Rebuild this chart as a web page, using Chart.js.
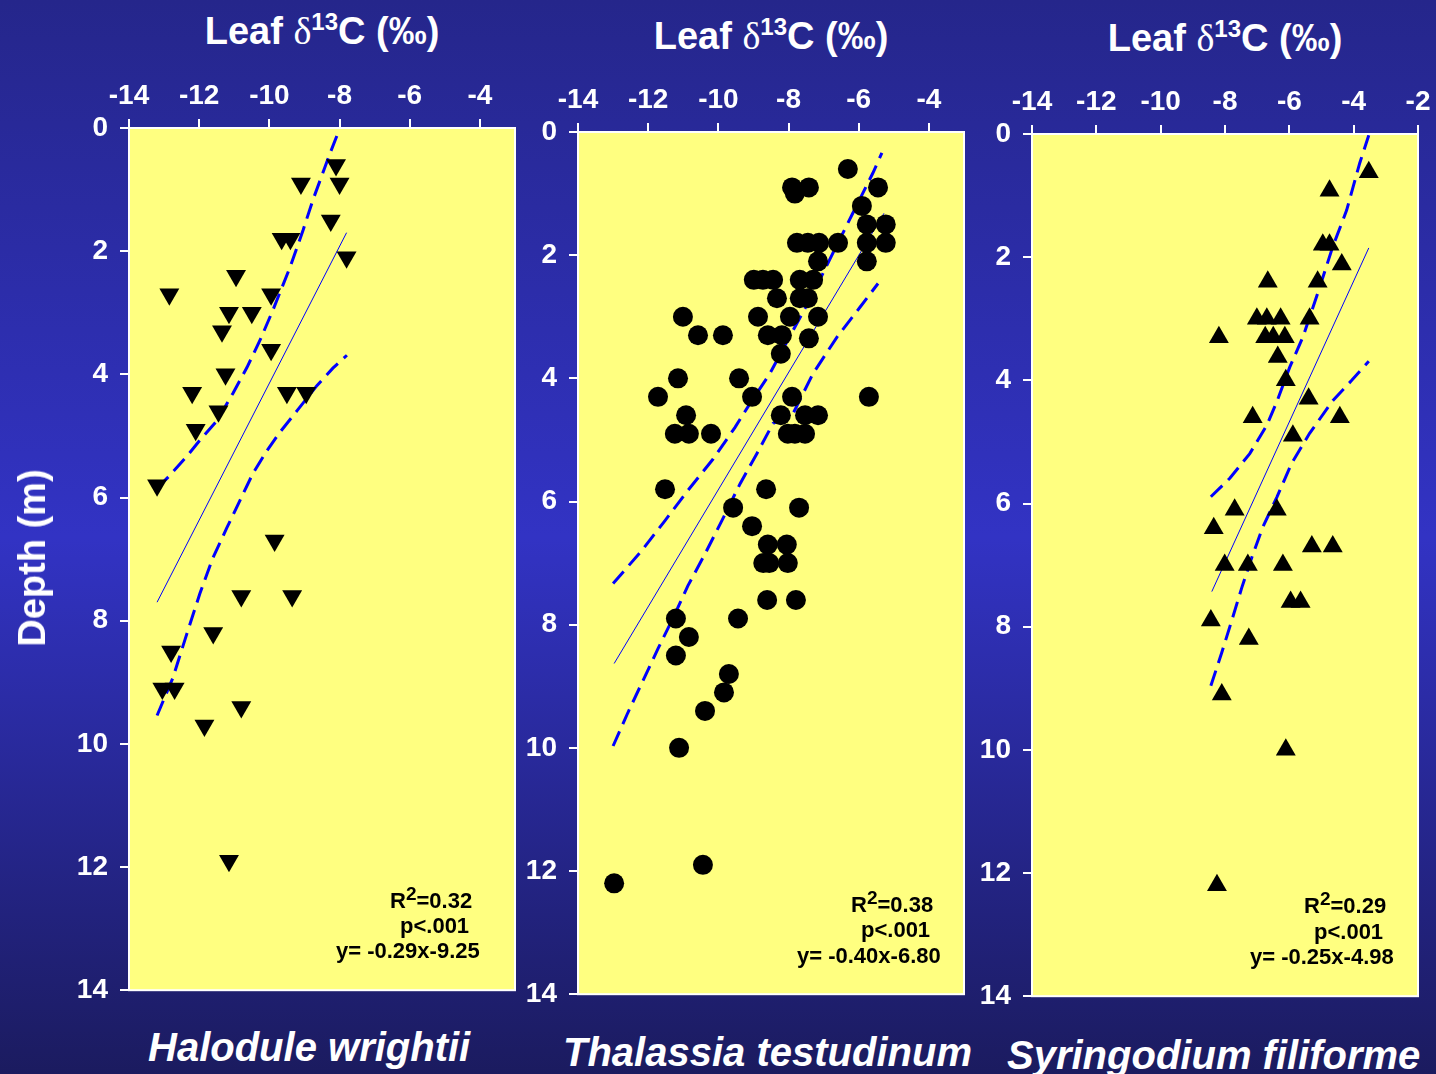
<!DOCTYPE html>
<html lang="en">
<head>
<meta charset="UTF-8">
<title>Leaf d13C vs depth</title>
<script src="https://cdn.jsdelivr.net/npm/chart.js"></script>
<style>
  body{margin:0;width:1436px;height:1074px;overflow:hidden;position:relative;
    background:linear-gradient(to bottom,#25268b 0%,#3233c4 50%,#1b1b5f 100%);
    font-family:"Liberation Sans",Arial,sans-serif;color:#fff;}
  canvas{position:absolute;}
  .ttl{position:absolute;font-weight:bold;font-size:38px;line-height:38px;white-space:nowrap;transform:translateX(-50%);}
  .ttl .d{font-family:"Liberation Serif",serif;font-weight:normal;}
  .ttl sup{font-size:24px;line-height:0;}
  .sp{position:absolute;font-weight:bold;font-style:italic;font-size:40px;line-height:40px;white-space:nowrap;}
  .st{position:absolute;font-weight:bold;font-size:22px;line-height:22px;color:#000;white-space:nowrap;}
  .st sup{font-size:19px;line-height:0;}
  .ylab{position:absolute;font-weight:bold;font-size:38px;line-height:38px;white-space:nowrap;
    transform:translate(-50%,-50%) rotate(-90deg);left:32px;top:558px;}
</style>
</head>
<body>

<canvas id="c1" width="496" height="961" style="left:49px;top:58px"></canvas>
<canvas id="c2" width="496" height="961" style="left:498px;top:62px"></canvas>
<canvas id="c3" width="496" height="961" style="left:952px;top:64px"></canvas>

<div class="ttl" style="left:322px;top:12px">Leaf <span class="d">δ</span><sup>13</sup>C (‰)</div>
<div class="ttl" style="left:771px;top:17px">Leaf <span class="d">δ</span><sup>13</sup>C (‰)</div>
<div class="ttl" style="left:1225px;top:19px">Leaf <span class="d">δ</span><sup>13</sup>C (‰)</div>

<div class="ylab">Depth (m)</div>

<div class="st" style="left:390px;top:890px">R<sup>2</sup>=0.32</div>
<div class="st" style="left:400px;top:915px">p&lt;.001</div>
<div class="st" style="left:336px;top:940px">y= -0.29x-9.25</div>

<div class="st" style="left:851px;top:894px">R<sup>2</sup>=0.38</div>
<div class="st" style="left:861px;top:919px">p&lt;.001</div>
<div class="st" style="left:797px;top:945px">y= -0.40x-6.80</div>

<div class="st" style="left:1304px;top:895px">R<sup>2</sup>=0.29</div>
<div class="st" style="left:1314px;top:921px">p&lt;.001</div>
<div class="st" style="left:1250px;top:946px">y= -0.25x-4.98</div>

<div class="sp" style="left:148px;top:1027px">Halodule wrightii</div>
<div class="sp" style="left:563px;top:1032px">Thalassia testudinum</div>
<div class="sp" style="left:1007px;top:1035px">Syringodium filiforme</div>

<script>
// axis ticks
const d13cTicks = [-14, -12, -10, -8, -6, -4];
const d13cTicksSyr = [-14, -12, -10, -8, -6, -4, -2];
const depthTicks = [0, 2, 4, 6, 8, 10, 12, 14];

// Halodule wrightii : leaf d13C (permil) and depth (m)
const halodD13C = [-8.1, -8.0, -9.1, -8.25, -9.65, -9.4, -7.8, -10.95, -12.85, -9.95,
  -11.15, -10.5, -11.35, -9.95, -11.25, -12.2, -9.5, -8.95, -11.45, -12.1,
  -13.2, -9.85, -10.8, -9.35, -11.6, -12.8, -13.05, -12.7, -10.8, -11.85, -11.15];
const halodDepth = [0.6, 0.9, 0.9, 1.5, 1.8, 1.8, 2.1, 2.4, 2.7, 2.7,
  3.0, 3.0, 3.3, 3.6, 4.0, 4.3, 4.3, 4.3, 4.6, 4.9,
  5.8, 6.7, 7.6, 7.6, 8.2, 8.5, 9.1, 9.1, 9.4, 9.7, 11.9];
const halodFitX = [-13.2, -7.8];
const halodFitY = [7.7, 1.7];
const halodUpX = [-13.2, -12.92, -12.38, -11.98, -11.49, -11.04, -10.64, -10.27, -9.9, -9.41, -9.04, -8.76, -8.27, -7.99];
const halodUpY = [5.85, 5.69, 5.35, 5.07, 4.75, 4.31, 3.89, 3.45, 2.96, 2.26, 1.66, 1.17, 0.41, 0.0];
const halodLoX = [-13.2, -12.75, -12.35, -11.98, -11.61, -11.21, -10.84, -10.47, -10.07, -9.7, -9.21, -8.64, -8.19, -7.79];
const halodLoY = [9.54, 8.93, 8.21, 7.56, 6.98, 6.49, 6.05, 5.61, 5.24, 4.94, 4.59, 4.18, 3.9, 3.69];

// Thalassia testudinum
const thalD13C = [-6.31, -7.9, -7.82, -7.42, -5.45, -5.91, -5.77, -5.23, -7.76, -7.45,
  -7.13, -6.59, -5.77, -5.23, -7.16, -5.77, -8.99, -8.73, -8.44, -7.68,
  -7.3, -8.33, -7.68, -7.45, -11.01, -8.87, -7.96, -7.16, -10.58, -9.87,
  -8.59, -8.19, -7.42, -8.22, -11.15, -9.41, -11.72, -9.04, -7.9, -5.71,
  -10.92, -8.22, -7.53, -7.16, -11.24, -10.84, -10.21, -8.02, -7.82, -7.53,
  -11.52, -8.64, -9.58, -7.7, -9.04, -8.59, -8.05, -8.72, -8.55, -8.02,
  -8.61, -7.79, -11.21, -9.44, -10.84, -11.21, -9.7, -9.84, -10.38, -11.12,
  -10.44, -12.97];
const thalDepth = [0.6, 0.9, 1.0, 0.9, 0.9, 1.2, 1.5, 1.5, 1.8, 1.8,
  1.8, 1.8, 1.8, 1.8, 2.1, 2.1, 2.4, 2.4, 2.4, 2.4,
  2.4, 2.7, 2.7, 2.7, 3.0, 3.0, 3.0, 3.0, 3.3, 3.3,
  3.3, 3.3, 3.35, 3.6, 4.0, 4.0, 4.3, 4.3, 4.3, 4.3,
  4.6, 4.6, 4.6, 4.6, 4.9, 4.9, 4.9, 4.9, 4.9, 4.9,
  5.8, 5.8, 6.1, 6.1, 6.4, 6.7, 6.7, 7.0, 7.0, 7.0,
  7.6, 7.6, 7.9, 7.9, 8.2, 8.5, 8.8, 9.1, 9.4, 10.0,
  11.9, 12.2];
const thalFitX = [-12.97, -5.28];
const thalFitY = [8.63, 1.32];
const thalUpX = [-13.0, -12.23, -11.52, -10.87, -10.15, -9.53, -9.1, -8.53, -7.87, -7.3, -6.74, -6.17, -5.6, -5.34];
const thalUpY = [7.33, 6.83, 6.31, 5.82, 5.31, 4.8, 4.41, 3.92, 3.22, 2.62, 1.97, 1.32, 0.67, 0.34];
const thalLoX = [-13.0, -12.58, -12.15, -11.72, -11.29, -10.87, -10.38, -9.9, -9.38, -8.9, -8.44, -7.87, -7.3, -6.62, -5.97, -5.45];
const thalLoY = [9.97, 9.43, 8.91, 8.39, 7.89, 7.37, 6.85, 6.31, 5.71, 5.22, 4.73, 4.57, 3.92, 3.33, 2.85, 2.46];

// Syringodium filiforme
const syrD13C = [-3.53, -4.75, -4.96, -4.75, -4.37, -5.12, -6.67, -7.01, -6.7, -6.27,
  -5.37, -8.19, -6.75, -6.5, -6.14, -6.36, -6.11, -5.4, -7.14, -4.43,
  -5.89, -7.7, -6.39, -8.35, -8.01, -7.29, -6.2, -5.3, -4.65, -5.96,
  -5.65, -8.44, -7.26, -8.1, -6.11, -8.25];
const syrDepth = [0.62, 0.92, 1.8, 1.8, 2.12, 2.4, 2.4, 3.0, 3.0, 3.0,
  3.0, 3.3, 3.3, 3.3, 3.3, 3.62, 4.0, 4.3, 4.6, 4.6,
  4.9, 6.1, 6.1, 6.4, 7.0, 7.0, 7.0, 6.7, 6.7, 7.6,
  7.6, 7.9, 8.2, 9.1, 10.0, 12.2];
const syrFitX = [-8.41, -3.53];
const syrFitY = [7.43, 1.85];
const syrUpX = [-8.44, -7.85, -7.23, -6.7, -6.39, -5.99, -5.58, -5.12, -4.65, -4.22, -3.81, -3.53];
const syrUpY = [5.89, 5.59, 5.19, 4.73, 4.35, 3.79, 3.3, 2.59, 1.83, 1.24, 0.47, 0.02];
const syrLoX = [-8.44, -8.1, -7.79, -7.48, -7.17, -6.83, -6.39, -5.93, -5.37, -4.65, -4.06, -3.53];
const syrLoY = [8.96, 8.42, 7.9, 7.37, 6.88, 6.39, 5.9, 5.35, 4.86, 4.33, 4.0, 3.69];

const pts = (xs, ys) => xs.map((x, i) => ({x: x, y: ys[i]}));

// yellow plot area with white frame
const plotFrame = {
  id: 'plotFrame',
  beforeDatasetsDraw(chart) {
    const a = chart.chartArea, ctx = chart.ctx;
    ctx.save();
    ctx.fillStyle = '#ffff80';
    ctx.fillRect(a.left, a.top, a.right - a.left, a.bottom - a.top);
    ctx.restore();
  },
  afterDraw(chart) {
    const a = chart.chartArea, ctx = chart.ctx;
    ctx.save();
    ctx.strokeStyle = '#ffffff';
    ctx.lineWidth = 2;
    ctx.strokeRect(a.left, a.top, a.right - a.left, a.bottom - a.top);
    ctx.restore();
  }
};

const tickFont = {family: '"Liberation Sans", Arial, sans-serif', size: 28, weight: 'bold'};

const drawPanel = (id, markers, style, rot, rad, fit, up, lo, xTicks, xMax) => {
  const line = (data, w, dash) => ({
    data: data, showLine: true, pointRadius: 0, borderColor: '#0000ff',
    borderWidth: w, borderDash: dash, tension: 0, fill: false
  });
  new Chart(document.getElementById(id), {
    type: 'scatter',
    data: {
      datasets: [
        {data: markers, pointStyle: style, rotation: rot, pointRadius: rad,
         backgroundColor: '#000', borderColor: '#000', borderWidth: 0},
        line(fit, 1, []),
        line(up, 3, [16, 8]),
        line(lo, 3, [16, 8])
      ]
    },
    options: {
      responsive: false, animation: false, events: [],
      layout: {padding: {left: 0, top: 0, right: 30, bottom: 25}},
      plugins: {legend: {display: false}, tooltip: {enabled: false}},
      scales: {
        x: {
          type: 'linear', position: 'top', min: -14, max: xMax,
          afterFit: s => { s.height = 70; },
          afterBuildTicks: s => { s.ticks = xTicks.map(v => ({value: v})); },
          ticks: {color: '#fff', font: tickFont, padding: 6, maxRotation: 0},
          grid: {drawOnChartArea: false, drawTicks: true, tickLength: 9, color: '#fff', lineWidth: 2},
          border: {display: true, color: '#fff', width: 2}
        },
        y: {
          type: 'linear', reverse: true, min: 0, max: 14,
          afterFit: s => { s.width = 80; },
          afterBuildTicks: s => { s.ticks = depthTicks.map(v => ({value: v})); },
          ticks: {color: '#fff', font: tickFont, padding: 12},
          grid: {drawOnChartArea: false, drawTicks: true, tickLength: 9, color: '#fff', lineWidth: 2},
          border: {display: true, color: '#fff', width: 2}
        }
      }
    },
    plugins: [plotFrame]
  });
};

drawPanel('c1', pts(halodD13C, halodDepth), 'triangle', 180, 11.5,
  pts(halodFitX, halodFitY), pts(halodUpX, halodUpY), pts(halodLoX, halodLoY), d13cTicks, -3);
drawPanel('c2', pts(thalD13C, thalDepth), 'circle', 0, 10,
  pts(thalFitX, thalFitY), pts(thalUpX, thalUpY), pts(thalLoX, thalLoY), d13cTicks, -3);
drawPanel('c3', pts(syrD13C, syrDepth), 'triangle', 0, 11.5,
  pts(syrFitX, syrFitY), pts(syrUpX, syrUpY), pts(syrLoX, syrLoY), d13cTicksSyr, -2);
</script>
</body>
</html>
